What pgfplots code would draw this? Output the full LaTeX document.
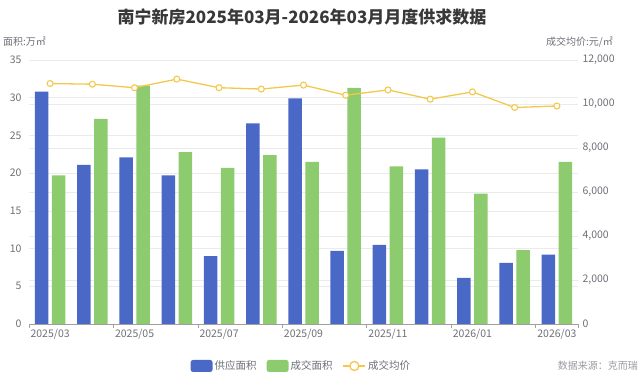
\documentclass[border=0pt]{standalone}
\usepackage{pgfplots}
\pgfplotsset{compat=1.18}
\usepackage{fontspec}
\setmainfont{Noto Sans CJK SC}
\definecolor{blueC}{HTML}{4A69C6}
\definecolor{greenC}{HTML}{8DCB6F}
\definecolor{goldC}{HTML}{F2C94C}
\definecolor{tickC}{HTML}{6E7079}
\definecolor{gridC}{HTML}{EBEBEB}
\definecolor{axisC}{HTML}{A0A0A0}
\begin{document}
\begin{tikzpicture}
\useasboundingbox (0,0) rectangle (642pt,382pt);
\node[font=\fontsize{17}{20}\selectfont\bfseries, text=black!78] at (302pt,364.5pt) {南宁新房2025年03月-2026年03月月度供求数据};
\node[font=\fontsize{10}{12}\selectfont, text=tickC, anchor=west, inner sep=0pt] at (3pt,340pt) {面积:万㎡};
\node[font=\fontsize{10}{12}\selectfont, text=tickC, anchor=east, inner sep=0pt] at (613pt,340pt) {成交均价:元/㎡};
\node[font=\fontsize{10}{12}\selectfont, text=tickC!70, anchor=east, inner sep=0pt] at (638pt,16pt) {数据来源：克而瑞};
\begin{axis}[
  at={(29pt,58pt)}, anchor=south west,
  scale only axis, width=549pt, height=264pt,
  xmin=-0.5, xmax=12.5, ymin=0, ymax=35,
  axis x line*=bottom, axis y line*=left,
  y axis line style={draw=none},
  x axis line style={draw=axisC, line width=0.8pt, -},
  xtick={-0.5,1.5,3.5,5.5,7.5,9.5,11.5,12.5}, xticklabels={},
  tick align=outside, major tick length=4pt,
  xtick style={draw=axisC, line width=0.8pt},
  extra x ticks={0,2,4,6,8,10,12},
  extra x tick labels={2025/03,2025/05,2025/07,2025/09,2025/11,2026/01,2026/03},
  extra x tick style={major tick length=0pt, xticklabel style={yshift=-2pt}},
  ytick={0,5,...,35},
  ytick style={draw=none},
  ymajorgrids, grid style={gridC, line width=0.6pt},
  extra y ticks={5.8333,11.6667,17.5,23.3333,29.1667},
  extra y tick labels={},
  extra y tick style={grid=major, ytick style={draw=none}},
  ticklabel style={font=\fontsize{10.5}{12}\selectfont, text=tickC},
  /pgf/number format/assume math mode=true,
  clip=false,
]
\addplot[ybar, bar width=13.5pt, bar shift=-8.5pt, fill=blueC, draw=none] coordinates {
(0,30.8) (1,21.1) (2,22.1) (3,19.7) (4,9.0) (5,26.6) (6,29.9) (7,9.7) (8,10.5) (9,20.5) (10,6.1) (11,8.1) (12,9.2)};
\addplot[ybar, bar width=13.5pt, bar shift=8.5pt, fill=greenC, draw=none] coordinates {
(0,19.7) (1,27.2) (2,31.6) (3,22.8) (4,20.7) (5,22.4) (6,21.5) (7,31.3) (8,20.9) (9,24.7) (10,17.3) (11,9.8) (12,21.5)};
\end{axis}
\begin{axis}[
  at={(29pt,58pt)}, anchor=south west,
  scale only axis, width=549pt, height=264pt,
  xmin=-0.5, xmax=12.5, ymin=0, ymax=12000,
  axis x line=none, axis y line*=right,
  y axis line style={draw=none},
  ytick={0,2000,...,12000}, ytick style={draw=none},
  scaled y ticks=false,
  yticklabel style={font=\fontsize{10.5}{12}\selectfont, text=tickC, anchor=west, xshift=1pt,
    /pgf/number format/.cd, fixed, 1000 sep={,}, assume math mode=true},
  legend style={at={(0.496,-0.159)}, anchor=center, draw=none, fill=none,
    legend columns=3, font=\fontsize{10.5}{12}\selectfont, text=tickC,
    /tikz/every even column/.append style={column sep=8pt}},
  legend cell align=left,
  clip=false,
]
\addlegendimage{fill=blueC, draw=none, legend image code/.code={\fill[blueC, rounded corners=2.5pt] (0pt,-6pt) rectangle (22pt,6pt);}}
\addlegendentry{供应面积}
\addlegendimage{fill=greenC, draw=none, legend image code/.code={\fill[greenC, rounded corners=2.5pt] (0pt,-6pt) rectangle (22pt,6pt);}}
\addlegendentry{成交面积}
\addplot[goldC, line width=1.3pt, mark=*, mark size=3pt, mark options={fill=white, draw=goldC, line width=1.1pt},
  legend image code/.code={\draw[goldC, line width=1.4pt] (0pt,0pt) -- (22pt,0pt); \draw[goldC, line width=1.3pt, fill=white] (11pt,0pt) circle (4.5pt);}] coordinates {
(0,10930) (1,10900) (2,10740) (3,11130) (4,10740) (5,10680) (6,10860) (7,10400) (8,10640) (9,10220) (10,10550) (11,9840) (12,9910)};
\addlegendentry{成交均价}
\end{axis}
\end{tikzpicture}
\end{document}
